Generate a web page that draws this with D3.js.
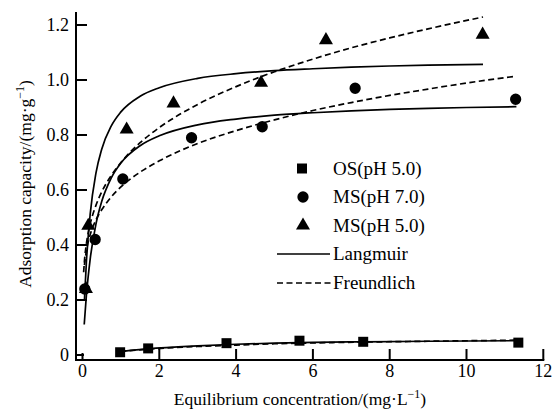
<!DOCTYPE html>
<html>
<head>
<meta charset="utf-8">
<script src="https://cdn.jsdelivr.net/npm/d3@7"></script>
<style>
  body { margin: 0; background: #fff; }
</style>
</head>
<body>
<svg id="chart"></svg>
<script>
// measured points
let osX = [0.98, 1.71, 3.75, 5.65, 7.31, 11.35];
let osY = [0.010, 0.024, 0.043, 0.052, 0.048, 0.045];
let ms7X = [0.06, 0.33, 1.05, 2.84, 4.68, 7.10, 11.28];
let ms7Y = [0.24, 0.42, 0.64, 0.79, 0.83, 0.97, 0.93];
let ms5X = [0.09, 0.15, 1.15, 2.37, 4.65, 6.34, 10.42];
let ms5Y = [0.24, 0.47, 0.82, 0.915, 0.99, 1.145, 1.165];

// fitted curves
let ms5LangX = [0.05, 0.1, 0.2, 0.35, 0.5, 0.75, 1, 1.5, 2, 3, 4, 5, 6, 7, 8, 9, 10.43];
let ms5LangY = [0.198, 0.335, 0.512, 0.661, 0.748, 0.833, 0.884, 0.941, 0.972, 1.006, 1.023, 1.034, 1.041, 1.047, 1.051, 1.054, 1.057];
let ms5FreuX = [0.03, 0.05, 0.1, 0.2, 0.35, 0.5, 0.75, 1, 1.5, 2, 3, 4, 5, 6, 7, 8, 9, 10.43];
let ms5FreuY = [0.301, 0.341, 0.403, 0.476, 0.544, 0.593, 0.653, 0.700, 0.772, 0.827, 0.911, 0.976, 1.030, 1.076, 1.117, 1.153, 1.186, 1.229];
let ms7LangX = [0.045, 0.1, 0.2, 0.35, 0.5, 0.75, 1, 1.5, 2, 3, 4, 5, 6, 7, 8, 9, 10, 11.3];
let ms7LangY = [0.111, 0.215, 0.349, 0.476, 0.558, 0.644, 0.698, 0.761, 0.797, 0.837, 0.858, 0.872, 0.881, 0.888, 0.893, 0.897, 0.900, 0.903];
let ms7FreuX = [0.05, 0.1, 0.2, 0.35, 0.5, 0.75, 1, 1.5, 2, 3, 4, 5, 6, 7, 8, 9, 10, 11.3];
let ms7FreuY = [0.327, 0.378, 0.437, 0.491, 0.528, 0.575, 0.611, 0.665, 0.706, 0.769, 0.816, 0.855, 0.889, 0.918, 0.944, 0.967, 0.989, 1.014];
let osLangX = [0.98, 1.7, 3, 4, 5, 6, 7.3, 9, 11.35];
let osLangY = [0.012, 0.022, 0.033, 0.039, 0.043, 0.046, 0.048, 0.050, 0.052];
let osFreuX = [0.98, 1.7, 3, 4, 5, 6, 7.3, 9, 11.35];
let osFreuY = [0.013, 0.021, 0.031, 0.036, 0.041, 0.044, 0.047, 0.050, 0.054];

let xTicks = [0, 2, 4, 6, 8, 10, 12];
let yTicks = [0, 0.2, 0.4, 0.6, 0.8, 1.0, 1.2];
let legendLabels = ["OS(pH 5.0)", "MS(pH 7.0)", "MS(pH 5.0)", "Langmuir", "Freundlich"];

const width = 558;
const height = 411;

let svg = d3.select("svg#chart")
  .attr("width", width)
  .attr("height", height)
  .attr("font-family", "'Liberation Serif', 'DejaVu Serif', serif");

let x = d3.scaleLinear().domain([0, 12]).range([82.5, 543.3]);
let y = d3.scaleLinear().domain([0, 1.2]).range([355, 25]);

let axisLeft = 76, axisBottom = 360;

// axes lines
svg.append("line")
  .attr("x1", axisLeft).attr("x2", axisLeft)
  .attr("y1", 12).attr("y2", axisBottom + 1)
  .attr("stroke", "#000").attr("stroke-width", 2);
svg.append("line")
  .attr("x1", axisLeft - 1).attr("x2", x(12) + 1)
  .attr("y1", axisBottom).attr("y2", axisBottom)
  .attr("stroke", "#000").attr("stroke-width", 2);

// x ticks (pointing in, up)
svg.selectAll("line.xtick").data(xTicks).enter().append("line")
  .attr("class", "xtick")
  .attr("x1", d => x(d)).attr("x2", d => x(d))
  .attr("y1", axisBottom).attr("y2", d => d == 0 ? axisBottom - 7 : axisBottom - 11)
  .attr("stroke", "#000").attr("stroke-width", 2);
svg.selectAll("text.xlab").data(xTicks).enter().append("text")
  .attr("class", "xlab")
  .attr("x", d => x(d)).attr("y", 377)
  .attr("text-anchor", "middle")
  .attr("font-size", 18)
  .text(d => d);

// y ticks (pointing in, right)
svg.selectAll("line.ytick").data(yTicks).enter().append("line")
  .attr("class", "ytick")
  .attr("x1", axisLeft).attr("x2", d => d == 0 ? axisLeft + 8 : axisLeft + 11)
  .attr("y1", d => y(d)).attr("y2", d => y(d))
  .attr("stroke", "#000").attr("stroke-width", 2);
svg.selectAll("text.ylab").data(yTicks).enter().append("text")
  .attr("class", "ylab")
  .attr("x", 69).attr("y", d => y(d) + 6)
  .attr("text-anchor", "end")
  .attr("font-size", 18)
  .text(d => d == 0 ? "0" : d.toFixed(1));

// axis titles
let xt = svg.append("text")
  .attr("x", 300).attr("y", 405)
  .attr("text-anchor", "middle")
  .attr("font-size", 17.5);
xt.append("tspan").text("Equilibrium concentration/(mg\u00B7L");
xt.append("tspan").attr("font-size", 12).attr("dy", -7).text("\u22121");
xt.append("tspan").attr("dy", 7).text(")");

let yt = svg.append("text")
  .attr("transform", "translate(31,184) rotate(-90)")
  .attr("text-anchor", "middle")
  .attr("font-size", 17.5);
yt.append("tspan").text("Adsorption capacity/(mg\u00B7g");
yt.append("tspan").attr("font-size", 12).attr("dy", -7).text("\u22121");
yt.append("tspan").attr("dy", 7).text(")");

// curves
let line = d3.line()
  .x(d => x(d[0]))
  .y(d => y(d[1]))
  .curve(d3.curveMonotoneX);

let curves = [
  [d3.zip(ms5LangX, ms5LangY), false],
  [d3.zip(ms5FreuX, ms5FreuY), true],
  [d3.zip(ms7LangX, ms7LangY), false],
  [d3.zip(ms7FreuX, ms7FreuY), true],
  [d3.zip(osFreuX, osFreuY), true],
  [d3.zip(osLangX, osLangY), false]
];

svg.selectAll("path.curve").data(curves).enter().append("path")
  .attr("class", "curve")
  .attr("d", d => line(d[0]))
  .attr("fill", "none")
  .attr("stroke", "#000")
  .attr("stroke-width", 1.7)
  .attr("stroke-dasharray", d => d[1] ? "6,3.5" : null);

// markers
let sq = d3.symbol().type(d3.symbolSquare).size(100);
let ci = d3.symbol().type(d3.symbolCircle).size(100);
let tr = d3.symbol().type(d3.symbolTriangle).size(85);

function drawPoints(xs, ys, sym) {
  svg.append("g").selectAll("path").data(d3.zip(xs, ys)).enter().append("path")
    .attr("d", sym)
    .attr("transform", d => "translate(" + x(d[0]) + "," + y(d[1]) + ")")
    .attr("fill", "#000");
}
drawPoints(ms7X, ms7Y, ci);
drawPoints(ms5X, ms5Y, tr);
drawPoints(osX, osY, sq);

// legend
let lg = svg.append("g");
let rows = [168.5, 197, 225.5, 254, 283];
lg.append("path").attr("d", sq).attr("transform", "translate(302," + rows[0] + ")");
lg.append("path").attr("d", ci).attr("transform", "translate(303," + rows[1] + ")");
lg.append("path").attr("d", tr).attr("transform", "translate(303," + rows[2] + ")");
lg.append("line").attr("x1", 277).attr("x2", 330).attr("y1", rows[3]).attr("y2", rows[3])
  .attr("stroke", "#000").attr("stroke-width", 1.7);
lg.append("line").attr("x1", 277).attr("x2", 332).attr("y1", rows[4]).attr("y2", rows[4])
  .attr("stroke", "#000").attr("stroke-width", 1.7).attr("stroke-dasharray", "6,3.5");
lg.selectAll("text").data(legendLabels).enter().append("text")
  .attr("x", 333).attr("y", (d, i) => rows[i] + 6)
  .attr("font-size", 19)
  .text(d => d);
</script>
</body>
</html>
